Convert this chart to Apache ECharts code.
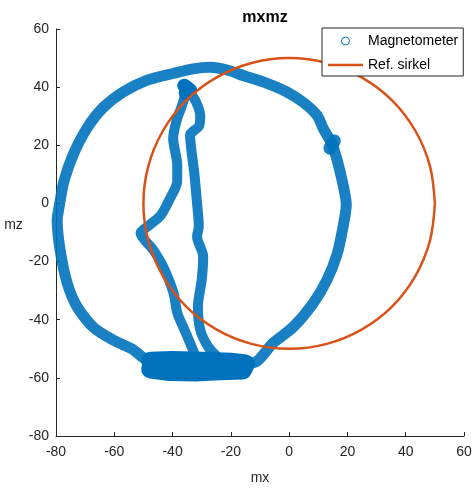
<!DOCTYPE html>
<html>
<head>
<meta charset="utf-8">
<script src="https://cdn.jsdelivr.net/npm/echarts@6/dist/echarts.min.js"></script>
<style>
  html, body { margin: 0; padding: 0; background: #fff; }
  #chart { width: 476px; height: 490px; }
</style>
</head>
<body>
<div id="chart"></div>
<script>
// målte punkter (mx, mz), lest av figuren
const ring = [
  [-30, -54], [-20, -54], [-12.3, -54.8], [-5.5, -48], [1.4, -42.5],
  [8.2, -34.4], [13, -26.3], [16.5, -17.3], [18.5, -8], [19.6, -0.5], [17.5, 10.8],
  [14.8, 20.2], [11.7, 25.8], [9.6, 30.3], [4.8, 34.8], [-0.7, 38.3], [-7.6, 41.3],
  [-15.8, 44], [-21, 45.8], [-27, 46.8], [-33, 46.3], [-39.8, 44.7], [-48.7, 42.4],
  [-57, 38.3], [-63.8, 33], [-69.3, 26], [-74, 17], [-77.3, 7.6], [-79, -1.6],
  [-79.6, -5.7], [-78.6, -16], [-76.2, -27.3], [-72.8, -35.5], [-67.3, -42.5],
  [-60.4, -47], [-53.5, -50.3], [-49, -53.5], [-40, -53.5], [-30, -54]
]
const leftStrand = [
  [-35, 39.5], [-37, 33], [-38.4, 29.3], [-39.8, 22.4], [-38.4, 13.2], [-38.4, 7.6],
  [-41, 1.5], [-44, -4], [-48, -7.5], [-51, -10.2], [-46.6, -16], [-43.2, -21.8],
  [-39.7, -30.7], [-38.4, -37.6], [-36.4, -42.4], [-34, -48], [-31.6, -53.9]
]
const rightStrand = [
  [-35, 39.5], [-32, 35], [-30.5, 30], [-31, 26.5], [-34, 23.5], [-33.5, 18],
  [-32.5, 10], [-31.6, 0], [-31, -8], [-31.6, -11.4], [-29.5, -18.3], [-30, -26.3],
  [-31.3, -35.5], [-30.5, -43.5], [-27.8, -49.3], [-24.7, -52.7]
]
const bottomBlob = [
  [-47.5, -54.3], [-40, -54], [-30, -54.3], [-20, -54.6], [-15, -55.2],
  [-16, -57.3], [-24, -57.6], [-32, -58], [-41, -57.8], [-47.5, -57]
]
const topBlob = [[-36, 40.5], [-34, 39], [-35.5, 38]]
const ringBlob = [[15.5, 21.5], [14, 19]]
const refCircle = [
  [50, 0], [48.3, 12.9], [43.3, 25], [35.4, 35.4], [25, 43.3], [12.9, 48.3], [0, 50],
  [-12.9, 48.3], [-25, 43.3], [-35.4, 35.4], [-43.3, 25], [-48.3, 12.9], [-50, 0],
  [-48.3, -12.9], [-43.3, -25], [-35.4, -35.4], [-25, -43.3], [-12.9, -48.3], [0, -50],
  [12.9, -48.3], [25, -43.3], [35.4, -35.4], [43.3, -25], [48.3, -12.9], [50, 0]
]
const ticks = [-80, -60, -40, -20, 0, 20, 40, 60]

const blue = '#0072BD'
const orange = '#D95319'
const font = 'Liberation Sans, Arial, Helvetica, sans-serif'

function magSeries (data, width, smooth, opacity) {
  return {
    name: 'Magnetometer',
    type: 'line',
    data: data,
    smooth: smooth,
    symbol: 'none',
    itemStyle: { color: 'rgba(0,0,0,0)', borderColor: blue, borderWidth: 1 },
    lineStyle: { color: blue, width: width, opacity: opacity || 0.9, cap: 'round', join: 'round' },
    emphasis: { disabled: true },
    z: 2
  }
}

let chart = echarts.init(document.getElementById('chart'))
chart.setOption({
  animation: false,
  title: {
    text: 'mxmz',
    left: 260,
    top: 5,
    textAlign: 'center',
    textStyle: { fontFamily: font, fontSize: 16, fontWeight: 'bold', color: '#000' }
  },
  legend: {
    orient: 'vertical',
    left: 322,
    top: 28,
    padding: [6, 5, 4, 5],
    itemWidth: 35,
    itemHeight: 10,
    itemGap: 10,
    backgroundColor: '#fff',
    borderColor: '#262626',
    borderWidth: 1,
    borderRadius: 0,
    textStyle: { fontFamily: font, fontSize: 14, color: '#000' },
    data: [
      { name: 'Magnetometer', lineStyle: { opacity: 0 }, itemStyle: { borderWidth: 1 } },
      { name: 'Ref. sirkel', icon: 'path://M0,0 L35,0 L35,2.5 L0,2.5 Z' }
    ]
  },
  grid: { left: 56, right: 12, top: 29, bottom: 54 },
  xAxis: {
    type: 'value',
    min: ticks[0],
    max: ticks[ticks.length - 1],
    interval: 20,
    name: 'mx',
    nameLocation: 'middle',
    nameGap: 35,
    nameTextStyle: { fontFamily: font, fontSize: 14, color: '#262626' },
    axisLine: { onZero: false, lineStyle: { color: '#262626', width: 1 } },
    axisTick: { inside: true, length: 4, lineStyle: { color: '#262626' } },
    axisLabel: { fontFamily: font, fontSize: 14, color: '#262626', margin: 9 },
    splitLine: { show: false }
  },
  yAxis: {
    type: 'value',
    min: ticks[0],
    max: ticks[ticks.length - 1],
    interval: 20,
    name: 'mz',
    nameLocation: 'middle',
    nameRotate: 0,
    nameGap: 23,
    nameTextStyle: { fontFamily: font, fontSize: 14, color: '#262626', verticalAlign: 'bottom' },
    axisLine: { show: true, onZero: false, lineStyle: { color: '#262626', width: 1 } },
    axisTick: { show: true, inside: true, length: 4, lineStyle: { color: '#262626' } },
    axisLabel: { fontFamily: font, fontSize: 14, color: '#262626', margin: 7 },
    splitLine: { show: false }
  },
  series: [
    magSeries(ring, 11, 0.25),
    magSeries(leftStrand, 10, 0.3),
    magSeries(rightStrand, 10, 0.3),
    magSeries(bottomBlob, 19, false, 1),
    magSeries(topBlob, 14, false, 1),
    magSeries(ringBlob, 13, false),
    {
      name: 'Ref. sirkel',
      type: 'line',
      data: refCircle,
      smooth: 0.35,
      symbol: 'none',
      itemStyle: { color: orange },
      lineStyle: { color: orange, width: 2.5 },
      emphasis: { disabled: true },
      z: 3
    }
  ]
})
</script>
</body>
</html>
